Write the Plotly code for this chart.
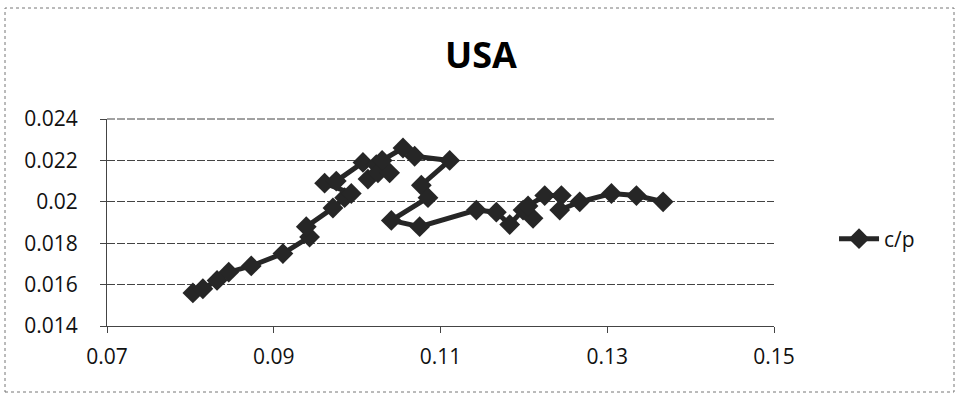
import plotly.graph_objects as go

# c/p path, in chronological order
x_vals = [0.0803, 0.0815, 0.0832, 0.0846, 0.0873, 0.0911, 0.0943, 0.0939,
          0.0971, 0.0985, 0.0993, 0.0961, 0.0975, 0.1007, 0.1023, 0.1013,
          0.1025, 0.1039, 0.1030, 0.1055, 0.1069, 0.1111, 0.1077, 0.1085,
          0.1041, 0.1075, 0.1143, 0.1167, 0.1183, 0.1199, 0.1211, 0.1205,
          0.1225, 0.1245, 0.1243, 0.1267, 0.1305, 0.1335, 0.1367]
y_vals = [0.0156, 0.0158, 0.0162, 0.0166, 0.0169, 0.0175, 0.0183, 0.0188,
          0.0197, 0.0202, 0.0204, 0.0209, 0.0210, 0.0219, 0.0218, 0.0211,
          0.0214, 0.0214, 0.0220, 0.0226, 0.0222, 0.0220, 0.0208, 0.0202,
          0.0191, 0.0188, 0.0196, 0.0195, 0.0189, 0.0196, 0.0192, 0.0198,
          0.0203, 0.0203, 0.0196, 0.0200, 0.0204, 0.0203, 0.0200]

series_name = "c/p"
chart_title = "USA"
x_ticks = [0.07, 0.09, 0.11, 0.13, 0.15]
x_tick_text = ["0.07", "0.09", "0.11", "0.13", "0.15"]
y_ticks = [0.014, 0.016, 0.018, 0.02, 0.022, 0.024]
y_tick_text = ["0.014", "0.016", "0.018", "0.02", "0.022", "0.024"]

ink = "#262626"
grid_color = "#444"
font_family = "Open Sans, Lato, DejaVu Sans, sans-serif"

fig = go.Figure()
fig.add_trace(go.Scatter(
    x=x_vals, y=y_vals, mode="lines+markers", name=series_name,
    line=dict(color=ink, width=5),
    marker=dict(symbol="diamond", size=16, color=ink),
))

fig.update_layout(
    width=959, height=395,
    margin=dict(l=107, r=185, t=119, b=69),
    paper_bgcolor="white", plot_bgcolor="white",
    font=dict(family=font_family, color="#111", size=21),
    title=dict(text="<b>" + chart_title + "</b>", x=481 / 959, xanchor="center",
               y=1 - 55 / 395, yanchor="middle",
               font=dict(size=36, family=font_family, color="#000")),
    showlegend=True,
    legend=dict(x=1.09, xanchor="left", y=0.42, yanchor="middle",
                font=dict(size=21, family=font_family, color="#111"),
                bgcolor="rgba(0,0,0,0)", itemwidth=40),
    xaxis=dict(range=[0.07, 0.15], tickvals=x_ticks, ticktext=x_tick_text,
               showgrid=False, zeroline=False, showline=True,
               linecolor="#444", linewidth=1, ticks="outside", ticklen=6,
               tickcolor="#444", ticklabelstandoff=6,
               tickfont=dict(size=21, family=font_family, color="#111")),
    yaxis=dict(range=[0.014, 0.024], tickvals=y_ticks, ticktext=y_tick_text,
               showgrid=True, gridcolor=grid_color, gridwidth=1,
               griddash="8px,2px", zeroline=False, showline=True,
               linecolor="#444", linewidth=1, ticks="outside", ticklen=6,
               tickcolor="#444", ticklabelstandoff=18,
               tickfont=dict(size=21, family=font_family, color="#111")),
)

# top gridline along the upper edge of the plot area
fig.add_shape(type="line", xref="paper", yref="paper", x0=0, x1=1, y0=1, y1=1,
              line=dict(color=grid_color, width=1, dash="8px,2px"), layer="below")

# outer chart frame
fig.add_shape(type="rect", xref="paper", yref="paper",
              x0=(5 - 107) / 667, x1=(954 - 107) / 667,
              y0=(326 - 392) / 207, y1=(326 - 8) / 207,
              line=dict(color="#777", width=1, dash="dot"), layer="below")

fig.write_html("out.html")
